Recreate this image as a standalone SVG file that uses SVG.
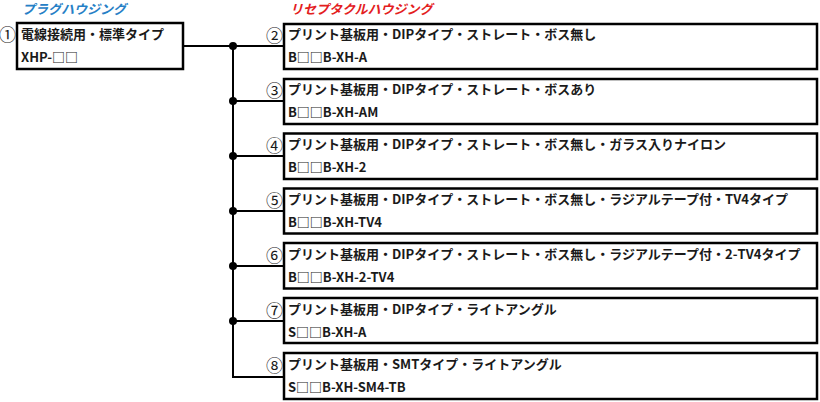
<svg xmlns="http://www.w3.org/2000/svg" width="820" height="402" viewBox="0 0 820 402">
<style>
.bg{fill:#ffffff}
.box{fill:#ffffff;stroke:#000000;stroke-width:2.5}
.t{font-family:"Noto Sans CJK JP","Noto Sans CJK SC",sans-serif;font-size:13px;font-weight:bold;fill:#1a1a1a}
.n{font-family:"Noto Sans CJK JP",sans-serif;font-size:17px;fill:#1a1a1a;text-anchor:end}
.h{font-family:"Noto Sans CJK JP",sans-serif;font-size:13px;font-weight:bold;font-style:italic}
.ln{fill:none;stroke:#000000;stroke-width:2}
.dot{fill:#000000}
</style>
<rect class="bg" x="0" y="0" width="820" height="402"/>
<text class="h" x="22" y="14" fill="#2680C6">プラグハウジング</text>
<text class="h" x="290" y="14" fill="#E3201E">リセプタクルハウジング</text>
<g id="connectors">
<path class="ln" d="M183 46 H284 M233 46 V377 H284 M233 101 H284 M233 156 H284 M233 211 H284 M233 266 H284 M233 321 H284"/>
<circle class="dot" cx="233" cy="46" r="4"/>
<circle class="dot" cx="233" cy="101" r="4"/>
<circle class="dot" cx="233" cy="156" r="4"/>
<circle class="dot" cx="233" cy="211" r="4"/>
<circle class="dot" cx="233" cy="266" r="4"/>
<circle class="dot" cx="233" cy="321" r="4"/>
</g>
<g id="n1">
<rect class="box" x="17" y="23" width="166" height="46"/>
<text class="n" x="16" y="41">①</text>
<text class="t" x="21" y="39">電線接続用・標準タイプ</text>
<text class="t" x="21" y="62">XHP-□□</text>
</g>
<g id="n2">
<rect class="box" x="284" y="24" width="533" height="45"/>
<text class="n" x="283" y="42">②</text>
<text class="t" x="288" y="39">プリント基板用・DIPタイプ・ストレート・ボス無し</text>
<text class="t" x="288" y="62">B□□B-XH-A</text>
</g>
<g id="n3">
<rect class="box" x="284" y="79" width="533" height="45"/>
<text class="n" x="283" y="97">③</text>
<text class="t" x="288" y="94">プリント基板用・DIPタイプ・ストレート・ボスあり</text>
<text class="t" x="288" y="117">B□□B-XH-AM</text>
</g>
<g id="n4">
<rect class="box" x="284" y="133.5" width="533" height="45.5"/>
<text class="n" x="283" y="152">④</text>
<text class="t" x="288" y="149">プリント基板用・DIPタイプ・ストレート・ボス無し・ガラス入りナイロン</text>
<text class="t" x="288" y="172">B□□B-XH-2</text>
</g>
<g id="n5">
<rect class="box" x="284" y="188.5" width="533" height="45"/>
<text class="n" x="283" y="207">⑤</text>
<text class="t" x="288" y="204">プリント基板用・DIPタイプ・ストレート・ボス無し・ラジアルテープ付・TV4タイプ</text>
<text class="t" x="288" y="227">B□□B-XH-TV4</text>
</g>
<g id="n6">
<rect class="box" x="284" y="243" width="533" height="45.5"/>
<text class="n" x="283" y="262">⑥</text>
<text class="t" x="288" y="259">プリント基板用・DIPタイプ・ストレート・ボス無し・ラジアルテープ付・2-TV4タイプ</text>
<text class="t" x="288" y="282">B□□B-XH-2-TV4</text>
</g>
<g id="n7">
<rect class="box" x="284" y="298" width="533" height="45"/>
<text class="n" x="283" y="317">⑦</text>
<text class="t" x="288" y="314">プリント基板用・DIPタイプ・ライトアングル</text>
<text class="t" x="288" y="337">S□□B-XH-A</text>
</g>
<g id="n8">
<rect class="box" x="284" y="353" width="533" height="46"/>
<text class="n" x="283" y="372">⑧</text>
<text class="t" x="288" y="369">プリント基板用・SMTタイプ・ライトアングル</text>
<text class="t" x="288" y="392">S□□B-XH-SM4-TB</text>
</g>
</svg>
